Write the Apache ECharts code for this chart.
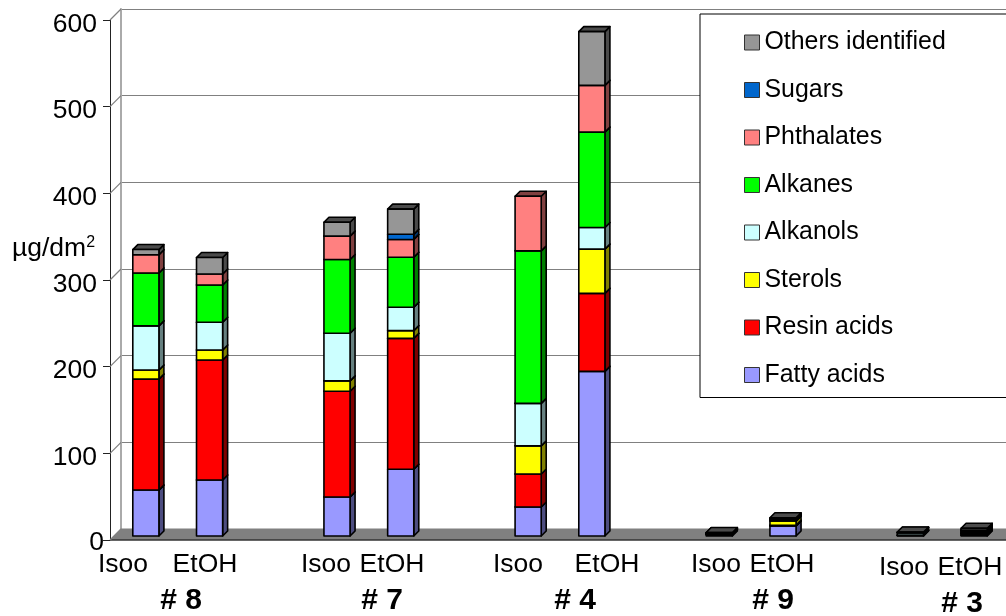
<!DOCTYPE html>
<html><head><meta charset="utf-8">
<style>html,body{margin:0;padding:0;background:#fff;overflow:hidden}#c{width:1006px;height:616px}</style>
<script src="https://cdn.jsdelivr.net/npm/echarts@6/dist/echarts.min.js"></script>
</head><body><div id="c"></div>
<script>
// ---- data (bars in order: #8 Isoo, #8 EtOH, #7 Isoo, #7 EtOH, #4 Isoo, #4 EtOH, #9 Isoo, #9 EtOH, #3 Isoo, #3 EtOH)
var categories = ['Isoo','EtOH','','Isoo','EtOH','','Isoo','EtOH','','Isoo','EtOH','','Isoo','EtOH'];
var barSlots   = [0,1,3,4,6,7,9,10,12,13];
var groups     = ['# 8','# 7','# 4','# 9','# 3'];
var yTicks     = [0,100,200,300,400,500,600];
var fattyAcids = [53,64.6,45,77,33.5,190,1.5,11.5,0.5,0.8];
var resinAcids = [128,138.5,122,151,38,90,0.5,0.8,0.3,1.5];
var sterols    = [10.5,11.5,12,9,32.5,51,0.3,5,0.3,0.7];
var alkanols   = [51,32,55,27,49,25,0.5,0.7,2.5,1];
var alkanes    = [61,43,85,57.7,176,110,0.5,0.8,0.4,1.5];
var phthalates = [21,12.7,27,20.5,63,54,0.3,0.8,0.3,1];
var sugars     = [0,0,0,6,0,0,0,0.2,0,0.5];
var others     = [6,19,16,29,0,62,0.4,1.2,0.3,2];
var seriesNames  = ['Fatty acids','Resin acids','Sterols','Alkanols','Alkanes','Phthalates','Sugars','Others identified'];
var seriesValues = [fattyAcids,resinAcids,sterols,alkanols,alkanes,phthalates,sugars,others];
var seriesColors = ['#9999FF','#FF0000','#FFFF00','#CCFFFF','#00FF00','#FF8080','#0066CC','#969696'];

// ---- layout
var FONT = '"Liberation Sans",Arial,sans-serif';
var DEPTH = 5, BAR_LIFT = 4, WALL = 11;
var solventLabels = [[123,565],[205,565],[326,565],[392,565],[518,565],[607,565],[716,565],[782,565],[904,568],[970,568]];
var groupLabels   = [[181,601],[382,601],[575,601],[773,601],[962,604]];

function shade(hex){
  var n=parseInt(hex.slice(1),16);
  return 'rgb('+[(n>>16)&255,(n>>8)&255,n&255].map(function(v){return Math.round(v*0.5)}).join(',')+')';
}
var cum = barSlots.map(function(){return 0});
var series = [{
  type:'custom', coordinateSystem:'cartesian2d', xAxisIndex:0, yAxisIndex:0, silent:true, z:1,
  legendHoverLink:false, name:'__floor', data:[[0,0]], encode:{x:0,y:1}, clip:false,
  renderItem:function(params,api){
    var cs=params.coordSys, left=cs.x-4, right=1006;
    var y0=api.coord([0,0])[1], children=[];
    children.push({type:'polygon',shape:{points:[[left,y0],[left+WALL,y0-WALL-0.5],[right,y0-WALL-0.5],[right,y0]]},style:{fill:'#808080',stroke:null}});
    children.push({type:'line',shape:{x1:left,y1:y0,x2:right,y2:y0},style:{stroke:'#333',lineWidth:1.5}});
    yTicks.forEach(function(t){
      var y=api.coord([0,t])[1];
      children.push({type:'line',shape:{x1:left,y1:y,x2:left+WALL,y2:y-WALL},style:{stroke:'#808080',lineWidth:1.2}});
    });
    return {type:'group',children:children};
  }
}];
seriesNames.forEach(function(name,si){
  var rows = barSlots.map(function(slot,i){
    var base=cum[i], top=base+seriesValues[si][i]; cum[i]=top;
    return [slot,base,top];
  });
  var col=seriesColors[si], dark=shade(col);
  series.push({
    name:name, type:'custom', coordinateSystem:'cartesian2d', xAxisIndex:0, yAxisIndex:0,
    silent:true, z:2, clip:false, data:rows, encode:{x:0,y:2},
    itemStyle:{color:col},
    renderItem:function(params,api){
      if(api.value(2)<=api.value(1)) return null;
      var c=api.coord([api.value(0),0])[0], w=api.size([1,0])[0]*0.41;
      var yb=api.coord([0,api.value(1)])[1]-BAR_LIFT, yt=api.coord([0,api.value(2)])[1]-BAR_LIFT;
      var x0=c-w/2, x1=c+w/2, d=DEPTH;
      function s(f){return {fill:f,stroke:'#000',lineWidth:1.6,lineJoin:'round'}}
      return {type:'group',children:[
        {type:'polygon',shape:{points:[[x1,yb],[x1+d,yb-d],[x1+d,yt-d],[x1,yt]]},style:s(dark)},
        {type:'polygon',shape:{points:[[x0,yt],[x0+d,yt-d],[x1+d,yt-d],[x1,yt]]},style:s(dark)},
        {type:'rect',shape:{x:x0,y:yt,width:w,height:yb-yt},style:s(col)}
      ]};
    }
  });
});

var graphics=[];
barSlots.forEach(function(slot,i){
  graphics.push({type:'text',x:solventLabels[i][0],y:solventLabels[i][1],z:5,
    style:{text:categories[slot],fontSize:26.5,fontFamily:FONT,fill:'#000',textAlign:'center',textVerticalAlign:'middle'}});
});
groups.forEach(function(g,i){
  graphics.push({type:'text',x:groupLabels[i][0],y:groupLabels[i][1],z:5,
    style:{text:g,fontSize:30,fontWeight:'bold',fontFamily:FONT,fill:'#000',textAlign:'center',textVerticalAlign:'middle'}});
});
graphics.push({type:'text',x:12,y:249,z:5,style:{text:'{a|µg/dm}{b|2}',textVerticalAlign:'middle',
  rich:{a:{fontSize:26.5,fontFamily:FONT,fill:'#000',color:'#000'},b:{fontSize:16,fontFamily:FONT,color:'#000',fill:'#000',padding:[0,0,12,0]}}}});

var option={
  animation:false,
  color:seriesColors,
  textStyle:{fontFamily:FONT},
  grid:[
    {left:114,right:-4,top:20,bottom:76,containLabel:false},
    {left:121,right:0,top:9,bottom:87}
  ],
  xAxis:[
    {gridIndex:0,type:'category',data:categories,axisLine:{show:false},axisTick:{show:false},axisLabel:{show:false}},
    {gridIndex:1,type:'category',data:categories,axisLine:{show:false},axisTick:{show:false},axisLabel:{show:false}}
  ],
  yAxis:[
    {gridIndex:0,type:'value',min:0,max:600,interval:100,offset:4,
     axisLine:{show:true,lineStyle:{color:'#222',width:1}},
     axisTick:{show:true,length:7,lineStyle:{color:'#222',width:1}},
     splitLine:{show:false},
     axisLabel:{margin:6,fontSize:26.5,fontFamily:FONT,color:'#000',
       formatter:function(v){return v===0?'{z|0}':'{n|'+v+'}'},
       rich:{n:{fontSize:26.5,fontFamily:FONT,color:'#000',padding:[9,7,0,0]},z:{fontSize:26.5,fontFamily:FONT,color:'#000',padding:[6,0,0,0]}}}},
    {gridIndex:1,type:'value',min:0,max:600,interval:100,
     axisLine:{show:true,lineStyle:{color:'#aaaaaa',width:2}},
     axisTick:{show:false},axisLabel:{show:false},
     splitLine:{show:true,lineStyle:{color:'#808080',width:1.2}}}
  ],
  legend:{
    orient:'vertical',left:700,top:14,
    padding:[16,80,10,44],
    data:seriesNames.slice().reverse(),
    itemWidth:15,itemHeight:15,itemGap:22.5,
    icon:'rect',
    itemStyle:{borderColor:'#333',borderWidth:1},
    backgroundColor:'#fff',borderColor:'#000',borderWidth:1,
    selectedMode:false,
    textStyle:{fontSize:24.9,fontFamily:FONT,color:'#000'},
    z:4
  },
  graphic:graphics,
  series:series
};
var chart=echarts.init(document.getElementById('c'),null,{renderer:'canvas'});
chart.setOption(option);
</script></body></html>
